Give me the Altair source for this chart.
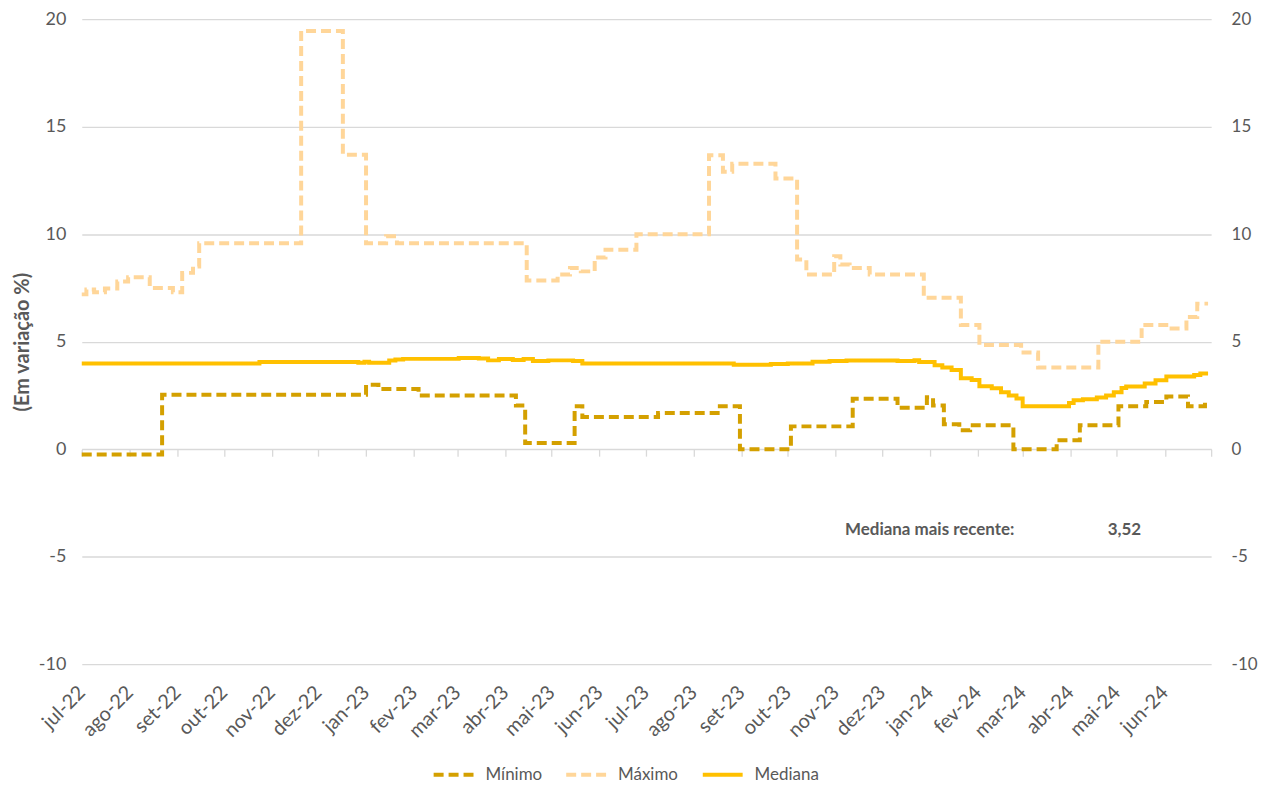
import altair as alt
import pandas as pd

# ---------------- data ----------------
series_names = ["Mínimo", "Máximo", "Mediana"]
series_colors = ["#D4A000", "#FFD699", "#FFC000"]

max_dates = ["2022-07-01", "2022-07-04", "2022-07-09", "2022-07-16", "2022-07-24", "2022-07-31",
             "2022-08-14", "2022-08-29", "2022-09-04", "2022-09-11", "2022-09-15", "2022-11-20",
             "2022-12-17", "2023-01-01", "2023-01-14", "2023-01-21", "2023-04-15", "2023-05-05",
             "2023-05-13", "2023-05-20", "2023-05-29", "2023-06-05", "2023-06-25", "2023-08-11",
             "2023-08-20", "2023-08-26", "2023-09-23", "2023-10-07", "2023-10-13", "2023-10-31",
             "2023-11-04", "2023-11-10", "2023-11-23", "2023-12-28", "2024-01-21", "2024-02-02",
             "2024-02-29", "2024-03-11", "2024-04-19", "2024-05-17", "2024-06-04", "2024-06-15",
             "2024-06-22", "2024-06-29"]
max_values = [7.2, 7.43, 7.3, 7.47, 7.8, 8.0,
              7.5, 7.3, 8.2, 8.5, 9.58, 19.45,
              13.7, 9.58, 9.9, 9.58, 7.85, 8.13,
              8.43, 8.27, 8.92, 9.28, 10.0, 13.67,
              12.9, 13.28, 12.59, 8.82, 8.12, 8.97,
              8.59, 8.43, 8.12, 7.04, 5.78, 4.84,
              4.5, 3.8, 5.0, 5.78, 5.61, 6.15,
              6.77, 6.77]

min_dates = ["2022-07-01", "2022-08-22", "2023-01-01", "2023-01-09", "2023-02-04", "2023-04-08",
             "2023-04-14", "2023-05-16", "2023-05-21", "2023-07-09", "2023-08-18", "2023-08-31",
             "2023-10-03", "2023-11-12", "2023-12-11", "2023-12-30", "2024-01-03", "2024-01-10",
             "2024-01-20", "2024-01-27", "2024-02-24", "2024-03-23", "2024-04-07", "2024-05-02",
             "2024-05-20", "2024-06-02", "2024-06-16", "2024-06-27", "2024-06-29"]
min_values = [-0.25, 2.53, 3.0, 2.8, 2.5, 2.03,
              0.29, 2.0, 1.5, 1.68, 2.0, 0.0,
              1.06, 2.34, 1.93, 2.42, 2.03, 1.16,
              0.88, 1.11, 0.0, 0.42, 1.11, 2.0,
              2.19, 2.45, 2.0, 2.25, 2.25]

med_dates = ["2022-07-01", "2022-10-24", "2022-12-27", "2022-12-31", "2023-01-03", "2023-01-16",
             "2023-01-20", "2023-01-25", "2023-03-02", "2023-03-15", "2023-03-21", "2023-03-28",
             "2023-04-06", "2023-04-13", "2023-04-19", "2023-04-29", "2023-05-15", "2023-05-21",
             "2023-08-27", "2023-09-20", "2023-10-01", "2023-10-17", "2023-10-28", "2023-11-08",
             "2023-12-11", "2023-12-22", "2023-12-25", "2024-01-04", "2024-01-09", "2024-01-15",
             "2024-01-21", "2024-01-28", "2024-02-02", "2024-02-10", "2024-02-16", "2024-02-21",
             "2024-02-26", "2024-03-01", "2024-03-31", "2024-04-03", "2024-04-09", "2024-04-18",
             "2024-04-24", "2024-04-29", "2024-05-04", "2024-05-07", "2024-05-19", "2024-05-26",
             "2024-06-02", "2024-06-20", "2024-06-24", "2024-06-29"]
med_values = [3.99, 4.05, 4.02, 4.07, 4.02, 4.12,
              4.17, 4.2, 4.24, 4.22, 4.13, 4.19,
              4.15, 4.2, 4.1, 4.13, 4.1, 3.99,
              3.93, 3.96, 3.99, 4.07, 4.1, 4.12,
              4.1, 4.14, 4.05, 3.9, 3.8, 3.68,
              3.3, 3.22, 2.93, 2.83, 2.65, 2.5,
              2.36, 2.0, 2.15, 2.27, 2.32, 2.4,
              2.5, 2.65, 2.85, 2.92, 3.05, 3.2,
              3.38, 3.45, 3.52, 3.52]

y_ticks = [-10, -5, 0, 5, 10, 15, 20]
annot_label = "Mediana mais recente:"
annot_label_date = "2023-11-07"
annot_value_date = "2024-04-25"
annot_y = -3.75

# ---------------- build tables ----------------
frames = []
for name, d, v in [("Mínimo", min_dates, min_values),
                   ("Máximo", max_dates, max_values),
                   ("Mediana", med_dates, med_values)]:
    frames.append(pd.DataFrame({"date": pd.to_datetime(d), "value": v, "serie": name}))
df = pd.concat(frames, ignore_index=True)

latest = med_values[-1]
annot = pd.DataFrame({
    "date": pd.to_datetime([annot_label_date, annot_value_date]),
    "value": [annot_y, annot_y],
    "text": [annot_label, f"{latest:.2f}".replace(".", ",")],
})

FONT = "Lato"
GREY = "#595959"
GRID = "#d9d9d9"

PLOT_H = 647
zero_offset = -(PLOT_H * (0 - (-10)) / 30.0)

x_scale = alt.Scale(domain=[alt.DateTime(year=2022, month=7, date=1),
                            alt.DateTime(year=2024, month=7, date=1)], nice=False)
y_scale = alt.Scale(domain=[-10, 20], nice=False, zero=False)

month_expr = ("(year(datum.value) == 2024 && month(datum.value) == 6) ? '' : "
              "['jan','fev','mar','abr','mai','jun','jul','ago','set','out','nov','dez'][month(datum.value)]"
              " + '-' + timeFormat(datum.value, '%y')")
num_expr = "datum.value < 0 ? '-' + abs(datum.value) : '' + datum.value"

main_x_axis = alt.Axis(tickCount={"interval": "month", "step": 1}, labelExpr=month_expr,
                       labelAngle=-45, labelAlign="right", labelBaseline="middle",
                       labelPadding=25, labelFontSize=20, labelColor=GREY, labelFont=FONT,
                       grid=False, domain=False, ticks=False, title=None, labelOverlap=False)
left_axis = alt.Axis(values=y_ticks, labelExpr=num_expr, grid=True, gridColor=GRID, gridWidth=1.3,
                     domain=False, ticks=False, labelPadding=16, labelFontSize=18, labelColor=GREY,
                     labelFont=FONT, title="(Em variação %)", titleFont=FONT, titleFontSize=20,
                     titleFontWeight="bold", titleColor=GREY, titlePadding=6)
zero_x_axis = alt.Axis(orient="bottom", offset=zero_offset, tickCount={"interval": "month", "step": 1},
                       labels=False, grid=False, domain=True, domainColor=GRID, domainWidth=1.3,
                       ticks=True, tickColor=GRID, tickSize=7, tickWidth=1.3, title=None)
right_axis = alt.Axis(orient="right", values=y_ticks, labelExpr=num_expr, grid=False, domain=False,
                      ticks=False, labelPadding=20, labelFontSize=17, labelColor=GREY,
                      labelFont=FONT, title=None)

legend = alt.Legend(orient="none", legendX=351, legendY=736, direction="horizontal", title=None,
                    symbolType="stroke", symbolSize=1600, symbolStrokeWidth=4,
                    labelFontSize=17, labelColor=GREY, labelFont=FONT, columnPadding=16,
                    labelOffset=10)

color = alt.Color("serie:N", scale=alt.Scale(domain=series_names, range=series_colors),
                  legend=legend, sort=series_names)
dash = alt.StrokeDash("serie:N", scale=alt.Scale(domain=series_names,
                                                 range=[[10, 5], [10, 5], [1, 0]]),
                      legend=legend, sort=series_names)

axis_layer = alt.Chart(df).mark_line(opacity=0).encode(
    x=alt.X("date:T", scale=x_scale, axis=zero_x_axis),
    y=alt.Y("value:Q", scale=y_scale, axis=right_axis),
    detail="serie:N",
)

lines = alt.Chart(df).mark_line(interpolate="step-after", strokeWidth=4).encode(
    x=alt.X("date:T", scale=x_scale, axis=main_x_axis),
    y=alt.Y("value:Q", scale=y_scale, axis=left_axis),
    color=color,
    strokeDash=dash,
)

text = alt.Chart(annot).mark_text(align="left", baseline="middle", font=FONT, fontSize=17,
                                  fontWeight="bold", color=GREY).encode(
    x=alt.X("date:T", scale=x_scale, axis=None),
    y=alt.Y("value:Q", scale=y_scale, axis=None),
    text="text:N",
)

chart = alt.layer(lines, axis_layer, text).resolve_axis(x="independent", y="independent").properties(
    width=1133, height=PLOT_H,
    autosize=alt.AutoSizeParams(type="none"),
    padding={"left": 74, "top": 10, "right": 47, "bottom": 118},
    background="white",
).configure_view(stroke=None)

chart.save("out.html", embed_options={"renderer": "svg", "actions": False})
